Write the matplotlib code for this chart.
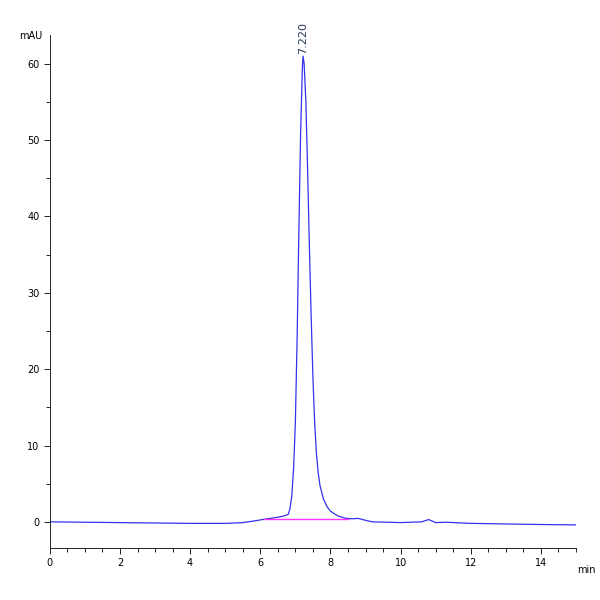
import matplotlib.pyplot as plt
from matplotlib.ticker import MultipleLocator

# chromatogram trace (min, mAU)
times = [0, 1, 2, 3, 4, 5, 5.5, 5.8, 6.0, 6.2, 6.5, 6.7, 6.8, 6.85, 6.9, 6.95, 7.0, 7.05,
         7.1, 7.15, 7.2, 7.22, 7.25, 7.3, 7.35, 7.4, 7.45, 7.5, 7.55, 7.6, 7.65, 7.7,
         7.8, 7.9, 8.0, 8.2, 8.4, 8.6, 8.8, 9.0, 9.2, 10.0, 10.6, 10.8, 11.0, 11.3,
         12.0, 13.3, 14.0, 15.0]
signal = [0.0, -0.05, -0.1, -0.15, -0.2, -0.2, -0.1, 0.1, 0.25, 0.4, 0.6, 0.8, 1.0, 1.8,
          3.5, 7.0, 13.0, 24.0, 38.0, 51.0, 59.5, 61.0, 60.0, 55.0, 46.0, 36.0, 27.0,
          19.0, 13.0, 9.0, 6.5, 4.8, 3.0, 2.0, 1.4, 0.8, 0.5, 0.4, 0.45, 0.2, 0.0,
          -0.1, 0.0, 0.3, -0.1, -0.05, -0.2, -0.3, -0.35, -0.4]
base_t = [6.1, 8.5]
base_v = [0.35, 0.35]
peak_rt = 7.220
peak_h = 61.0

fig = plt.figure(figsize=(6, 6), dpi=100)
ax = fig.add_axes([0.083, 0.087, 0.877, 0.855])
ax.plot(times, signal, color="#3333ee", linewidth=0.9)
ax.plot(base_t, base_v, color="#ff33ff", linewidth=1.0)
ax.text(peak_rt, peak_h + 0.3, f"{peak_rt:.3f}", rotation=90, ha="center", va="bottom",
        fontsize=8, color="#223355")

ax.set_xlim(0, 15)
ax.set_ylim(-3.4, 63.8)
ax.xaxis.set_major_locator(MultipleLocator(2))
ax.xaxis.set_minor_locator(MultipleLocator(0.5))
ax.yaxis.set_major_locator(MultipleLocator(10))
ax.yaxis.set_minor_locator(MultipleLocator(5))
ax.spines["top"].set_visible(False)
ax.spines["right"].set_visible(False)
ax.tick_params(labelsize=7, length=4, width=0.6)
ax.tick_params(which="minor", length=3, width=0.6)
for s in ax.spines.values():
    s.set_linewidth(0.6)
fig.text(0.07, 0.935, "mAU", fontsize=7, ha="right")
fig.text(0.962, 0.045, "min", fontsize=7, ha="left")
fig.savefig("out.png")
